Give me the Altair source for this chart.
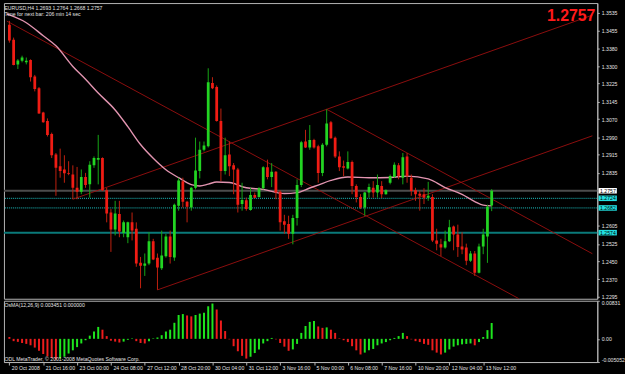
import altair as alt
import pandas as pd

# ---------------- data ----------------
opens = [1.3482, 1.3417, 1.3309, 1.3325, 1.3318, 1.3328, 1.3256, 1.3205, 1.3099, 1.3062,
         1.3005, 1.2915, 1.2864, 1.2850, 1.2834, 1.2828, 1.2770, 1.2753, 1.2817, 1.2785,
         1.2868, 1.2893, 1.2900, 1.2759, 1.2662, 1.2588, 1.2655, 1.2573, 1.2554, 1.2619,
         1.2591, 1.2442, 1.2429, 1.2439, 1.2536, 1.2464, 1.2418, 1.2471, 1.2557, 1.2465,
         1.2691, 1.2799, 1.2709, 1.2684, 1.2770, 1.2843, 1.2936, 1.2951, 1.3228, 1.3210,
         1.3062, 1.2843, 1.2915, 1.2868, 1.2850, 1.2699, 1.2716, 1.2673, 1.2739, 1.2730,
         1.2768, 1.2860, 1.2817, 1.2840, 1.2753, 1.2624, 1.2612, 1.2569, 1.2638, 1.2782,
         1.2972, 1.2946, 1.2979, 1.2951, 1.2835, 1.2958, 1.3056, 1.2989, 1.2907, 1.2864,
         1.2854, 1.2883, 1.2778, 1.2730, 1.2684, 1.2749, 1.2770, 1.2749, 1.2778, 1.2742,
         1.2792, 1.2817, 1.2868, 1.2814, 1.2907, 1.2814, 1.2759, 1.2744, 1.2742, 1.2727,
         1.2730, 1.2540, 1.2523, 1.2509, 1.2537, 1.2601, 1.2566, 1.2514, 1.2509, 1.2451,
         1.2483, 1.2399, 1.2514, 1.2557, 1.2693]
highs = [1.3499, 1.3426, 1.3332, 1.3347, 1.3339, 1.3331, 1.3263, 1.3210, 1.3102, 1.3073,
         1.3011, 1.2922, 1.2941, 1.2912, 1.2886, 1.2868, 1.2861, 1.2850, 1.2835, 1.2886,
         1.2907, 1.3001, 1.2903, 1.2770, 1.2677, 1.2713, 1.2713, 1.2627, 1.2622, 1.2662,
         1.2619, 1.2468, 1.2483, 1.2576, 1.2547, 1.2483, 1.2583, 1.2569, 1.2583, 1.2701,
         1.2814, 1.2814, 1.2713, 1.2773, 1.2989, 1.2972, 1.2972, 1.3292, 1.3253, 1.3217,
         1.3116, 1.2989, 1.2972, 1.2878, 1.2857, 1.2792, 1.2727, 1.2770, 1.2749, 1.2773,
         1.2864, 1.2893, 1.2878, 1.2843, 1.2759, 1.2652, 1.2648, 1.2652, 1.2807, 1.2975,
         1.3023, 1.3044, 1.2984, 1.2958, 1.2965, 1.3113, 1.3062, 1.2994, 1.2929, 1.2889,
         1.2929, 1.2889, 1.2785, 1.2742, 1.2752, 1.2788, 1.2799, 1.2828, 1.2799, 1.2763,
         1.2828, 1.2881, 1.2878, 1.2922, 1.2922, 1.2828, 1.2770, 1.2756, 1.2768, 1.2796,
         1.2742, 1.2591, 1.2547, 1.2583, 1.2630, 1.2605, 1.2609, 1.2576, 1.2526, 1.2494,
         1.2494, 1.2526, 1.2591, 1.2696, 1.2764]
lows = [1.3404, 1.3305, 1.3289, 1.3318, 1.3309, 1.3234, 1.3191, 1.3093, 1.3054, 1.2994,
        1.2900, 1.2735, 1.2814, 1.2792, 1.2825, 1.2720, 1.2720, 1.2742, 1.2770, 1.2727,
        1.2857, 1.2785, 1.2756, 1.2619, 1.2490, 1.2562, 1.2554, 1.2554, 1.2528, 1.2540,
        1.2425, 1.2331, 1.2385, 1.2432, 1.2454, 1.2324, 1.2411, 1.2465, 1.2439, 1.2451,
        1.2670, 1.2684, 1.2619, 1.2670, 1.2763, 1.2811, 1.2929, 1.2946, 1.3201, 1.3059,
        1.2799, 1.2828, 1.2821, 1.2742, 1.2662, 1.2670, 1.2670, 1.2670, 1.2725, 1.2727,
        1.2763, 1.2807, 1.2773, 1.2720, 1.2583, 1.2569, 1.2547, 1.2523, 1.2605, 1.2773,
        1.2944, 1.2936, 1.2941, 1.2792, 1.2821, 1.2951, 1.2984, 1.2900, 1.2843, 1.2821,
        1.2850, 1.2742, 1.2706, 1.2677, 1.2648, 1.2727, 1.2727, 1.2727, 1.2725, 1.2740,
        1.2785, 1.2814, 1.2807, 1.2785, 1.2792, 1.2735, 1.2713, 1.2670, 1.2699, 1.2713,
        1.2533, 1.2497, 1.2471, 1.2504, 1.2533, 1.2497, 1.2468, 1.2480, 1.2432, 1.2446,
        1.2385, 1.2396, 1.2480, 1.2442, 1.2668]
closes = [1.3413, 1.3306, 1.3326, 1.3339, 1.3325, 1.3253, 1.3202, 1.3094, 1.3056, 1.3001,
          1.2912, 1.2857, 1.2843, 1.2833, 1.2830, 1.2770, 1.2753, 1.2817, 1.2782, 1.2871,
          1.2900, 1.2900, 1.2759, 1.2658, 1.2588, 1.2658, 1.2579, 1.2619, 1.2619, 1.2583,
          1.2439, 1.2429, 1.2439, 1.2537, 1.2457, 1.2422, 1.2474, 1.2557, 1.2468, 1.2696,
          1.2802, 1.2709, 1.2687, 1.2770, 1.2846, 1.2936, 1.2955, 1.3231, 1.3205, 1.3062,
          1.2843, 1.2912, 1.2864, 1.2850, 1.2696, 1.2717, 1.2677, 1.2739, 1.2727, 1.2768,
          1.2860, 1.2817, 1.2840, 1.2749, 1.2619, 1.2609, 1.2569, 1.2638, 1.2782, 1.2969,
          1.2946, 1.2979, 1.2946, 1.2835, 1.2958, 1.3051, 1.2986, 1.2907, 1.2860, 1.2857,
          1.2883, 1.2778, 1.2730, 1.2684, 1.2749, 1.2773, 1.2749, 1.2782, 1.2742, 1.2759,
          1.2821, 1.2871, 1.2821, 1.2903, 1.2821, 1.2756, 1.2742, 1.2735, 1.2727, 1.2735,
          1.2540, 1.2526, 1.2509, 1.2536, 1.2598, 1.2566, 1.2511, 1.2500, 1.2451, 1.2483,
          1.2399, 1.2514, 1.2566, 1.2687, 1.2757]

osma = [0.0004, -0.0005, -0.00065, -0.0009, -0.0011, -0.0014, -0.0019, -0.0026, -0.0033, -0.0038,
        -0.0042, -0.0045, -0.0043, -0.0039, -0.0032, -0.0025, -0.0018, -0.0010, -0.0003, 0.0007,
        0.0016, 0.0026, 0.0020, 0.0006, -0.0004, -0.0006, -0.0008, -0.0006, -0.0002, 0.0001,
        -0.0005, -0.0009, -0.0010, -0.0005, 0.0001, 0.0003, 0.0008, 0.0016, 0.0020, 0.0035,
        0.0052, 0.0054, 0.0051, 0.0049, 0.0052, 0.0055, 0.0057, 0.0071, 0.0077, 0.0064,
        0.0040, 0.0017, -0.0001, -0.0016, -0.0027, -0.0037, -0.0043, -0.0039, -0.0031, -0.0023,
        -0.0010, -0.0005, 0.0002, -0.0001, -0.0009, -0.0017, -0.0026, -0.0023, -0.0011, 0.0013,
        0.0028, 0.0037, 0.0039, 0.0027, 0.0024, 0.0025, 0.0020, 0.0013, 0.0001, -0.0003,
        -0.0007, -0.0016, -0.0025, -0.0034, -0.0030, -0.0025, -0.0022, -0.0014, -0.0010, -0.0007,
        -0.0003, 0.0002, 0.0006, 0.0013, 0.0006, -0.0001, -0.0005, -0.0007, -0.0011, -0.0013,
        -0.0025, -0.0030, -0.0034, -0.0030, -0.0023, -0.0017, -0.0014, -0.0012, -0.0011, -0.0010,
        -0.0014, -0.0007, 0.0004, 0.0019, 0.003451]

ma_bar = [-0.6, 0, 4, 8, 11, 15, 18, 21, 25, 28, 31, 34, 37, 40, 43, 45, 47, 49, 52, 56,
          60, 65, 68, 71, 73, 76, 80, 85, 90, 94, 99, 103, 107, 110, 112, 114]
ma_val = [1.3529, 1.3525, 1.3491, 1.3434, 1.3390, 1.3300, 1.3244, 1.3184, 1.3110, 1.3037,
          1.2959, 1.2899, 1.2849, 1.2814, 1.2784, 1.2778, 1.2786, 1.2795, 1.2793, 1.2770,
          1.2763, 1.2745, 1.2749, 1.2769, 1.2782, 1.2802, 1.2817, 1.2814, 1.2815, 1.2821,
          1.2809, 1.2771, 1.2741, 1.2710, 1.2694, 1.2691]

# trend lines: start bar, start price, end bar, end price
tl_x1 = [-0.6, 75, 15, 35]
tl_p1 = [1.3498, 1.3113, 1.2720, 1.2324]
tl_x2 = [120.5, 137.8, 137.8, 137.8]
tl_p2 = [1.2285, 1.2482, 1.3524, 1.2997]

date_labels = ["20 Oct 2008", "21 Oct 16:00", "23 Oct 00:00", "24 Oct 08:00", "27 Oct 12:00",
               "28 Oct 20:00", "30 Oct 04:00", "31 Oct 12:00", "3 Nov 16:00", "5 Nov 00:00",
               "6 Nov 08:00", "7 Nov 16:00", "10 Nov 20:00", "12 Nov 04:00", "13 Nov 12:00"]
date_bars = [0, 8, 16, 24, 32, 40, 48, 56, 64, 72, 80, 88, 96, 104, 112]

price_ticks = [1.3535, 1.3455, 1.3380, 1.3300, 1.3225, 1.3145, 1.3070, 1.2990, 1.2915,
               1.2835, 1.2605, 1.2525, 1.2450, 1.2370, 1.2295]
bid_price = 1.2757
dotted_levels = [1.2724, 1.2682]
solid_level = 1.2574
osma_ticks = [0.00831, 0.0, -0.005052]

FONT = "Liberation Sans"
TXT = "#e4e4e4"
FRAME = "#b4b4b4"
UP_BODY, DN_BODY = "#22d422", "#f01c14"
UP_WICK, DN_WICK = "#16a616", "#c0200f"
HIST_UP, HIST_DN = "#1ee61e", "#ee1c1c"

# ---------------- tables ----------------
n = len(opens)
df = pd.DataFrame({"i": list(range(n)), "open": opens, "high": highs,
                   "low": lows, "close": closes})
df["dir"] = ["up" if c >= o else "down" for o, c in zip(opens, closes)]

ma_df = pd.DataFrame({"i": ma_bar, "ma": ma_val})
tl_df = pd.DataFrame({"x1": tl_x1, "p1": tl_p1, "x2": tl_x2, "p2": tl_p2})

osma_dir = ["down"]
for k in range(1, n):
    osma_dir.append("up" if osma[k] >= osma[k - 1] else "down")
os_df = pd.DataFrame({"i": list(range(n)), "v": osma, "dir": osma_dir})

xscale = alt.Scale(domain=[-0.115, 137.8], nice=False, zero=False)
yscale = alt.Scale(domain=[1.22853, 1.35769], nice=False, zero=False)
yaxis = alt.Axis(orient="right", values=price_ticks, format=".4f", title=None, grid=False,
                 labelFontSize=5.2, labelFont=FONT, labelColor=TXT, tickColor=FRAME,
                 tickSize=2, labelPadding=2, domainColor=FRAME, labelFlush=False,
                 labelOverlap=False)

X = alt.X("i:Q", scale=xscale, axis=None, title=None)


def Y(field):
    return alt.Y(field, scale=yscale, axis=yaxis, title=None)


base = alt.Chart(df)
layers = []
for d, wc, bc in (("up", UP_WICK, UP_BODY), ("down", DN_WICK, DN_BODY)):
    sub = base.transform_filter(alt.datum.dir == d)
    layers.append(sub.mark_rule(strokeWidth=1, clip=True, color=wc).encode(
        x=X, y=Y("low:Q"), y2="high:Q"))
    layers.append(sub.mark_bar(size=2.8, clip=True, color=bc).encode(
        x=X, y=Y("open:Q"), y2="close:Q"))

ma_line = alt.Chart(ma_df).mark_line(color="#e294b0", strokeWidth=1.4, clip=True,
                                     interpolate="monotone").encode(x=X, y=Y("ma:Q"))

tlines = alt.Chart(tl_df).mark_rule(color="#9c1010", strokeWidth=0.9, clip=True).encode(
    x=alt.X("x1:Q", scale=xscale, axis=None, title=None), x2="x2:Q",
    y=Y("p1:Q"), y2="p2:Q")

bid_df = pd.DataFrame({"p": [bid_price], "label": [f"{bid_price:.4f}"]})
lvl_df = pd.DataFrame({"p": dotted_levels + [solid_level],
                       "label": [f"{v:.4f}" for v in dotted_levels + [solid_level]]})

bid_line = alt.Chart(bid_df).mark_rule(color="#4c4c4c", strokeWidth=2).encode(y=Y("p:Q"))
dot_lines = alt.Chart(pd.DataFrame({"p": dotted_levels})).mark_rule(
    color="#1cc4c4", strokeWidth=1, strokeDash=[1, 1]).encode(y=Y("p:Q"))
teal_line = alt.Chart(pd.DataFrame({"p": [solid_level]})).mark_rule(
    color="#0a7a7a", strokeWidth=2).encode(y=Y("p:Q"))

bid_box = alt.Chart(bid_df).mark_tick(orient="horizontal", size=18.5, thickness=5.6,
                                      color="#ffffff", opacity=1).encode(
    x=alt.value(610.5), y=Y("p:Q"))
lvl_box = alt.Chart(lvl_df).mark_tick(orient="horizontal", size=18.5, thickness=5.6,
                                      color="#22e0e0", opacity=1).encode(
    x=alt.value(610.5), y=Y("p:Q"))
box_text = alt.Chart(pd.concat([bid_df, lvl_df])).mark_text(
    align="left", baseline="middle", fontSize=5.2, font=FONT, color="#000000").encode(
    x=alt.value(602.8), y=Y("p:Q"), text="label:N")

big_price = alt.Chart(pd.DataFrame({"t": ["1.2757"]})).mark_text(
    align="right", baseline="alphabetic", fontSize=16, fontWeight="bold", font=FONT,
    color="#ff1a1a").encode(x=alt.value(598), y=alt.value(18.5), text="t:N")

info1 = alt.Chart(pd.DataFrame({"t": ["EURUSD,H4  1.2693 1.2764 1.2668 1.2757"]})).mark_text(
    align="left", baseline="alphabetic", fontSize=5.2, font=FONT, color=TXT).encode(
    x=alt.value(0.5), y=alt.value(7.3), text="t:N")
info2 = alt.Chart(pd.DataFrame({"t": ["Time for next bar: 206 min 14 sec"]})).mark_text(
    align="left", baseline="alphabetic", fontSize=5.2, font=FONT, color=TXT).encode(
    x=alt.value(0.5), y=alt.value(12.7), text="t:N")

main = alt.layer(bid_line, dot_lines, teal_line, tlines, ma_line, *layers,
                 bid_box, lvl_box, box_text, big_price, info1, info2).properties(
    width=600, height=299)

# ---------------- OsMA panel ----------------
ox = alt.X("i:Q", scale=xscale, title=None,
           axis=alt.Axis(values=date_bars,
                         labelExpr="['" + "','".join(date_labels) + "'][datum.value/8]",
                         labelAlign="left", labelBaseline="top", labelOffset=2, labelPadding=1,
                         labelFontSize=5.2, labelFont=FONT, labelColor=TXT, tickColor=FRAME,
                         tickSize=3, domainColor=FRAME, labelFlush=False, labelOverlap=False,
                         grid=False))
oyscale = alt.Scale(domain=[-0.005052, 0.00831], nice=False, zero=False)
oy = alt.Y("v:Q", scale=oyscale, title=None,
           axis=alt.Axis(orient="right", values=osma_ticks,
                         labelExpr="datum.value == 0 ? '0.00' : (datum.value > 0 ? '0.00831' : '-0.005052')",
                         labelFlush=True, labelFontSize=5.2, labelFont=FONT, labelColor=TXT,
                         tickColor=FRAME, tickSize=2, labelPadding=2, domainColor=FRAME,
                         grid=False, labelOverlap=False))
hist_up = alt.Chart(os_df).transform_filter(alt.datum.dir == "up").mark_bar(
    size=2.0, color=HIST_UP).encode(x=ox, y=oy, y2=alt.datum(0))
hist_dn = alt.Chart(os_df).transform_filter(alt.datum.dir == "down").mark_bar(
    size=2.0, color=HIST_DN).encode(x=ox, y=oy, y2=alt.datum(0))
os_t1 = alt.Chart(pd.DataFrame({"t": ["OsMA(12,26,9) 0.003451 0.000000"]})).mark_text(
    align="left", baseline="alphabetic", fontSize=5.2, font=FONT, color=TXT).encode(
    x=alt.value(0.5), y=alt.value(6.6), text="t:N")
os_t2 = alt.Chart(pd.DataFrame({"t": ["ODL MetaTrader, \u00a9 2001-2008 MetaQuotes Software Corp."]})).mark_text(
    align="left", baseline="alphabetic", fontSize=5.2, font=FONT, color=TXT).encode(
    x=alt.value(0.5), y=alt.value(61.0), text="t:N")
lower = alt.layer(hist_up, hist_dn, os_t1, os_t2).properties(width=600, height=62)

chart = alt.vconcat(main, lower, spacing=2, bounds="flush").properties(
    padding={"left": 2, "top": 0, "right": 0, "bottom": 0},
    background="#000000",
).configure_view(stroke=FRAME, strokeWidth=1)

chart.save("out.html", embed_options={"renderer": "svg", "actions": False})
